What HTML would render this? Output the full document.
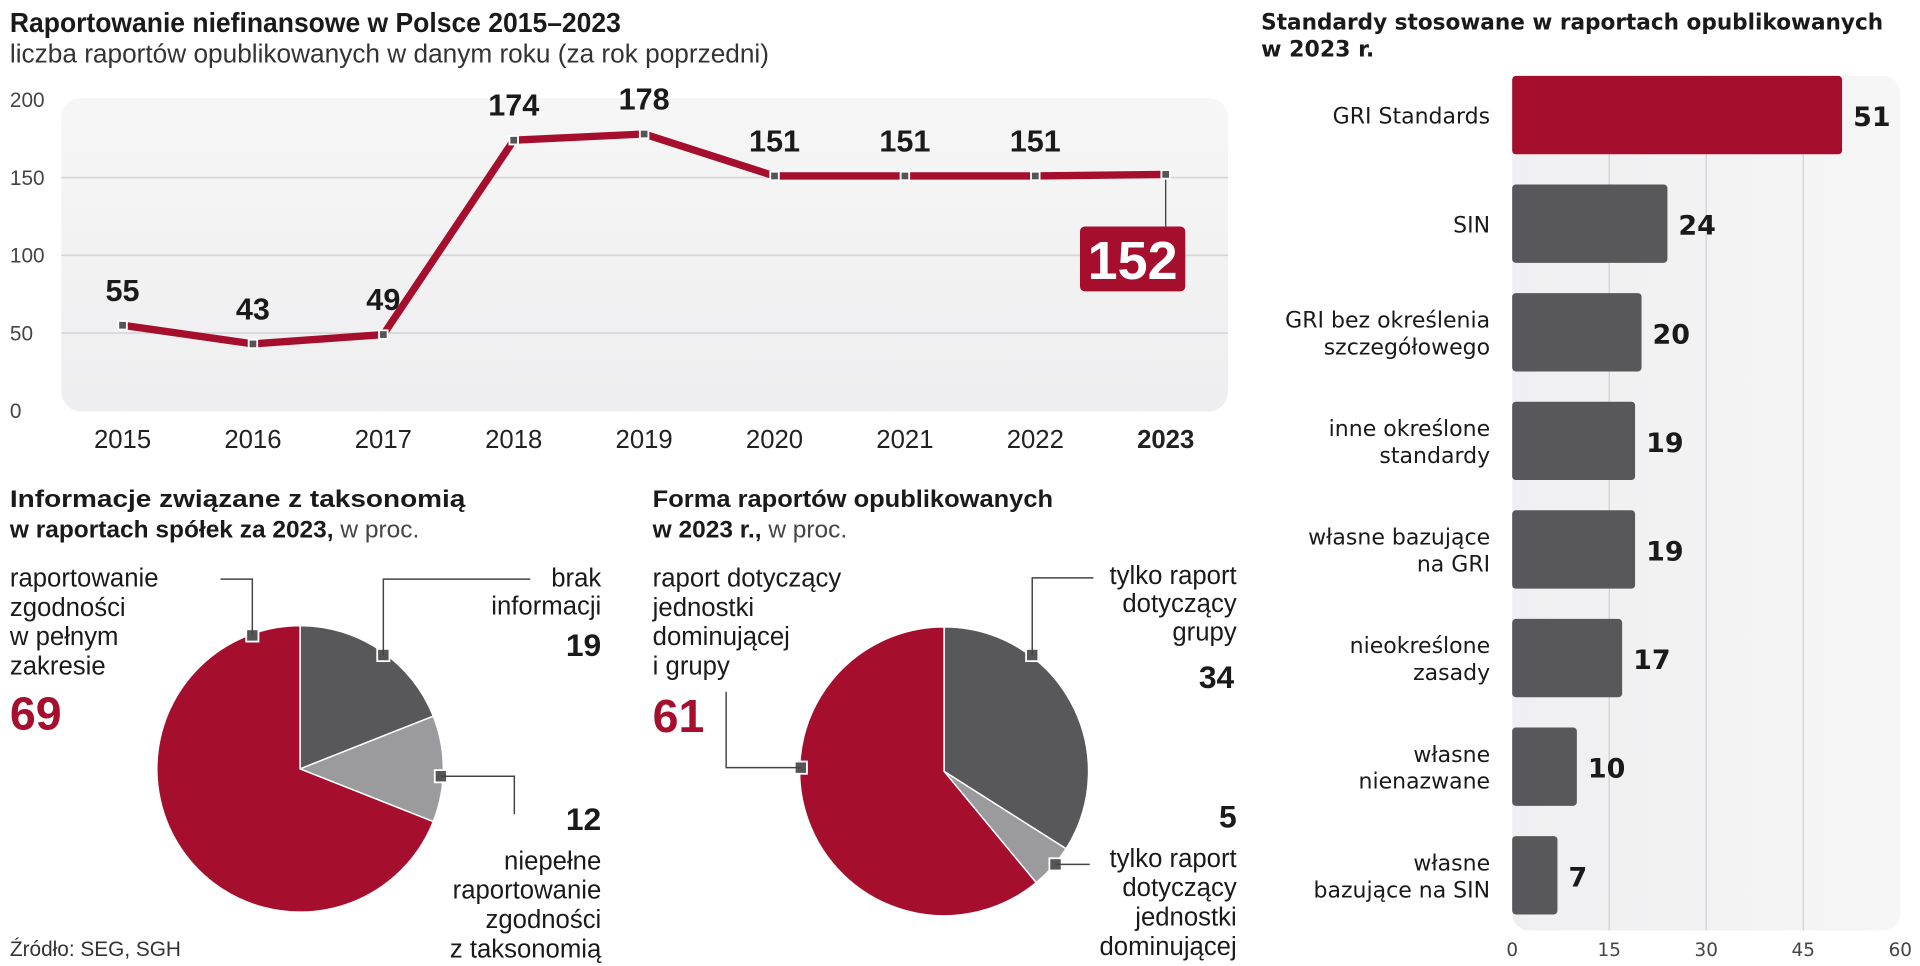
<!DOCTYPE html>
<html><head><meta charset="utf-8"><style>
html,body{margin:0;padding:0;background:#fff;}
svg{display:block;}
.n{font-family:"Liberation Sans Narrow","Liberation Sans",sans-serif;}
.w{font-family:"DejaVu Sans","Liberation Sans",sans-serif;}
</style></head><body>
<svg id="s" width="1920" height="966" viewBox="0 0 1568 789" xmlns="http://www.w3.org/2000/svg">
<defs>
<linearGradient id="bg" x1="0" y1="0" x2="0" y2="1"><stop offset="0" stop-color="#f6f6f6"/><stop offset="1" stop-color="#eeeef0"/></linearGradient>
<linearGradient id="bg2" x1="0" y1="0" x2="1" y2="0"><stop offset="0" stop-color="#efeff1"/><stop offset="1" stop-color="#f6f6f6"/></linearGradient>
</defs>
<g>
<text class="n" x="8" y="26" font-size="23" font-weight="bold" fill="#1a1a1a" textLength="499" lengthAdjust="spacingAndGlyphs">Raportowanie niefinansowe w Polsce 2015–2023</text>
<text class="n" x="8" y="51" font-size="21" fill="#333" textLength="620" lengthAdjust="spacingAndGlyphs">liczba raportów opublikowanych w danym roku (za rok poprzedni)</text>
</g>
<rect x="50" y="80" width="953" height="256" rx="16" fill="url(#bg)"/>
<g id="line"></g>
<g>
<text class="w" x="1030" y="24" font-size="18" font-weight="bold" fill="#1a1a1a" textLength="508" lengthAdjust="spacingAndGlyphs">Standardy stosowane w raportach opublikowanych</text>
<text class="w" x="1030" y="46" font-size="18" font-weight="bold" fill="#1a1a1a">w 2023 r.</text>
</g>
<rect x="1235" y="62" width="317" height="698" rx="14" fill="url(#bg2)"/>
<g id="bars"></g>
<g>
<text class="n" x="8" y="414" font-size="20" font-weight="bold" fill="#1a1a1a" textLength="372" lengthAdjust="spacingAndGlyphs">Informacje związane z taksonomią</text>
<text class="n" x="8" y="439" font-size="20" fill="#1a1a1a"><tspan font-weight="bold">w raportach spółek za 2023,</tspan><tspan fill="#444"> w proc.</tspan></text>
</g>
<g>
<text class="n" x="533" y="414" font-size="20" font-weight="bold" fill="#1a1a1a" textLength="327" lengthAdjust="spacingAndGlyphs">Forma raportów opublikowanych</text>
<text class="n" x="533" y="439" font-size="20" fill="#1a1a1a"><tspan font-weight="bold">w 2023 r.,</tspan><tspan fill="#444"> w proc.</tspan></text>
</g>
<g id="pies"></g>
<g id="ann" class="n" font-size="21" fill="#1a1a1a">
<g>
<text x="8" y="479">raportowanie</text><text x="8" y="503">zgodności</text><text x="8" y="527">w pełnym</text><text x="8" y="551">zakresie</text>
<text x="8" y="596" font-size="38" font-weight="bold" fill="#a50f2d">69</text>
<polyline points="180,473 206,473 206,519" fill="none" stroke="#444" stroke-width="1.2"/>
</g>
<g text-anchor="end">
<text x="491" y="479">brak</text><text x="491" y="502">informacji</text>
<text x="491" y="536" font-size="26" font-weight="bold">19</text>
<polyline points="433,473 313,473 313,535" fill="none" stroke="#444" stroke-width="1.2"/>
</g>
<g text-anchor="end">
<text x="491" y="678" font-size="26" font-weight="bold">12</text>
<text x="491" y="710">niepełne</text><text x="491" y="734">raportowanie</text><text x="491" y="758">zgodności</text><text x="491" y="782">z taksonomią</text>
<polyline points="360,634 420,634 420,665" fill="none" stroke="#444" stroke-width="1.2"/>
</g>
<g>
<text x="533" y="479">raport dotyczący</text><text x="533" y="503">jednostki</text><text x="533" y="527">dominującej</text><text x="533" y="551">i grupy</text>
<text x="533" y="598" font-size="38" font-weight="bold" fill="#a50f2d">61</text>
<polyline points="593,565 593,627 654,627" fill="none" stroke="#444" stroke-width="1.2"/>
</g>
<g text-anchor="end">
<text x="1010" y="477">tylko raport</text><text x="1010" y="500">dotyczący</text><text x="1010" y="523">grupy</text>
<text x="1008" y="562" font-size="26" font-weight="bold">34</text>
<polyline points="893,472 843,472 843,535" fill="none" stroke="#444" stroke-width="1.2"/>
</g>
<g text-anchor="end">
<text x="1010" y="676" font-size="26" font-weight="bold">5</text>
<text x="1010" y="708">tylko raport</text><text x="1010" y="732">dotyczący</text><text x="1010" y="756">jednostki</text><text x="1010" y="780">dominującej</text>
<polyline points="862,706 890,706" fill="none" stroke="#444" stroke-width="1.2"/>
</g>
<text x="8" y="781" font-size="17" fill="#333">Źródło: SEG, SGH</text>
</g>
</svg>
<script>
const NS="http://www.w3.org/2000/svg";
const years=["2015","2016","2017","2018","2019","2020","2021","2022","2023"];
const reports=[55,43,49,174,178,151,151,151,152];
const yTicks=[0,50,100,150,200];
const barCats=[["GRI Standards"],["SIN"],["GRI bez określenia","szczegółowego"],["inne określone","standardy"],["własne bazujące","na GRI"],["nieokreślone","zasady"],["własne","nienazwane"],["własne","bazujące na SIN"]];
const barVals=[51,24,20,19,19,17,10,7];
const xTicks=[0,15,30,45,60];
const pie1Labels=["brak informacji","niepełne raportowanie","pełne raportowanie"];
const pie1Vals=[19,12,69];
const pie2Labels=["tylko grupy","tylko jednostki dominującej","jednostki i grupy"];
const pie2Vals=[34,5,61];

function el(t,a,p){const e=document.createElementNS(NS,t);for(const k in a)e.setAttribute(k,a[k]);p.appendChild(e);return e;}
const L=document.getElementById('line');
const ly=v=>335.5-v*(335.5-81.5)/200;
const lx=i=>100+i*(952-100)/(years.length-1);
yTicks.forEach(t=>{
  if(t>0&&t<200){const g=el('line',{x1:50,x2:1003,y1:ly(t),y2:ly(t),stroke:'#d6d6d8','stroke-width':1.3},L);
  
  }
  const tx=el('text',{x:8,y:ly(t)+6,'font-size':17,fill:'#444',class:'n'},L);tx.textContent=t;
  
  
});
years.forEach((y,i)=>{
  const tx=el('text',{x:lx(i),y:366,'text-anchor':'middle','font-size':21,fill:'#222',class:'n','font-weight':i==years.length-1?'bold':'normal'},L);tx.textContent=y;
  
  
});
const pl=el('polyline',{points:reports.map((v,i)=>lx(i)+','+ly(v)).join(' '),fill:'none',stroke:'#a50f2d','stroke-width':6,'stroke-linejoin':'round'},L);


const last=reports.length-1;
const cn=el('line',{x1:lx(last),x2:lx(last),y1:ly(reports[last]),y2:185,stroke:'#333','stroke-width':1},L);


reports.forEach((v,i)=>{
  const m=el('rect',{x:lx(i)-3.5,y:ly(v)-3.5,width:7,height:7,fill:'#555',stroke:'#fff','stroke-width':1.5},L);
  
  
  if(i<last){const t=el('text',{x:lx(i),y:ly(v)-20,'text-anchor':'middle','font-size':25,'font-weight':'bold',fill:'#1a1a1a',class:'n'},L);t.textContent=v;
  
  }
});
const bx=el('rect',{x:lx(last)-70,y:185,width:86,height:53,rx:4,fill:'#a50f2d'},L);


const bt=el('text',{x:lx(last)-27,y:228,'text-anchor':'middle','font-size':44,'font-weight':'bold',fill:'#fff',class:'n'},L);bt.textContent=reports[last];



const B=document.getElementById('bars');
const bxs=v=>1235+v*(1552-1235)/60;
const rowY=i=>94+i*88.7;
xTicks.forEach(t=>{
  if(t>0&&t<60){const g=el('line',{x1:bxs(t),x2:bxs(t),y1:62,y2:760,stroke:'#d0d0d2','stroke-width':1},B);
  
  }
  const tx=el('text',{x:bxs(t),y:781,'text-anchor':'middle','font-size':15,fill:'#444',class:'w'},B);tx.textContent=t;
  
  
});
barVals.forEach((v,i)=>{
  const cy=rowY(i);
  const r=el('rect',{x:1235,y:cy-32,width:bxs(v)-1235,height:64,rx:3,fill:i==0?'#a50f2d':'#58585a'},B);
  
  
  const t=el('text',{x:bxs(v)+9,y:cy+9,'font-size':22,'font-weight':'bold',fill:'#1a1a1a',class:'w'},B);t.textContent=v;
  
  
  const lines=barCats[i];
  lines.forEach((s,j)=>{
    const yy=cy+7+(j-(lines.length-1)/2)*22;
    const c=el('text',{x:1217,y:yy,'text-anchor':'end','font-size':18,fill:'#1a1a1a',class:'w'},B);c.textContent=s;
    
    
  });
});

const P=document.getElementById('pies');
const cols=['#58585a','#9b9b9d','#a50f2d'];
function pie(vals,names,cx,cy,r,prefix){
  const tot=vals.reduce((a,b)=>a+b,0);let a0=0;
  vals.forEach((v,i)=>{
    const a1=a0+v/tot*2*Math.PI;
    const p0=[cx+r*Math.sin(a0),cy-r*Math.cos(a0)],p1=[cx+r*Math.sin(a1),cy-r*Math.cos(a1)];
    const s=el('path',{d:`M${cx},${cy} L${p0[0]},${p0[1]} A${r},${r} 0 ${a1-a0>Math.PI?1:0} 1 ${p1[0]},${p1[1]} Z`,fill:cols[i],stroke:'#fff','stroke-width':1.2},P);
    
    
    a0=a1;
  });
}
pie(pie1Vals,pie1Labels,245,628,117,'pie1');
pie(pie2Vals,pie2Labels,771,630,118,'pie2');
const marks=[[206,519],[313,535],[360,634],[654,627],[843,535],[862,706]];
marks.forEach(m=>{
  const r=el('rect',{x:m[0]-5,y:m[1]-5,width:10,height:10,fill:'#555',stroke:'#fff','stroke-width':1.5},P);
  
  
});
</script>
</body></html>
